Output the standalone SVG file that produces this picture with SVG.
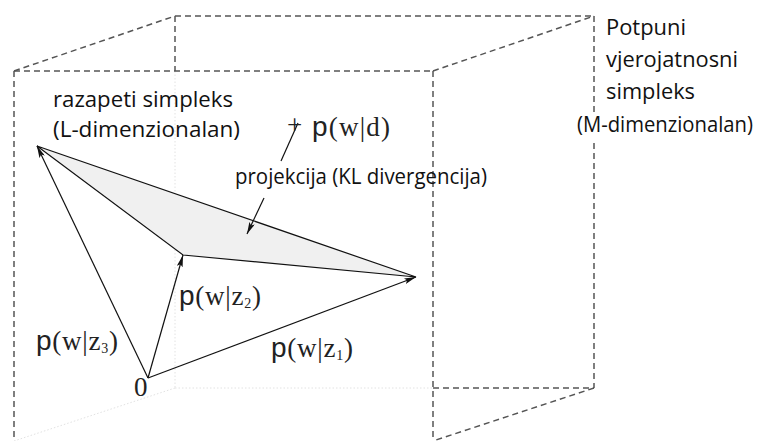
<svg xmlns="http://www.w3.org/2000/svg" width="758" height="441" viewBox="0 0 758 441">
<style>
.dash{fill:none;stroke:#555;stroke-width:1.5;stroke-dasharray:6 4}
.dot{fill:none;stroke:#e2e2e2;stroke-width:1;stroke-dasharray:1.5 2}
.edge{fill:none;stroke:#111;stroke-width:1.2}
.lbl{font-family:"Open Sans","Liberation Sans",sans-serif;font-size:21px;fill:#111}
.math{font-family:"Liberation Serif","DejaVu Serif",serif;font-size:27px;fill:#222}
.p{font-family:"Liberation Sans","DejaVu Sans",sans-serif;font-size:28px}
.sub{font-size:14px}
</style>
<defs>
<marker id="ah" viewBox="0 0 12 6" refX="12" refY="3" markerWidth="12" markerHeight="6" markerUnits="userSpaceOnUse" orient="auto">
<path d="M0,0 L12,3 L0,6 L2.5,3 Z" fill="#111"/>
</marker>
</defs>
<rect width="758" height="441" fill="#fff"/>
<g id="cube">
<line class="dot" x1="175" y1="71" x2="175" y2="388"/>
<line class="dot" x1="175" y1="388" x2="433" y2="388"/>
<line class="dot" x1="175" y1="388" x2="14" y2="441"/>
<line class="dash" x1="175" y1="16" x2="594" y2="16"/>
<line class="dash" x1="175" y1="16" x2="175" y2="71"/>
<line class="dash" x1="14" y1="71" x2="175" y2="16"/>
<line class="dash" x1="433" y1="71" x2="594" y2="16"/>
<line class="dash" x1="14" y1="71" x2="433" y2="71"/>
<line class="dash" x1="14" y1="71" x2="14" y2="441"/>
<line class="dash" x1="433" y1="71" x2="433" y2="441"/>
<line class="dash" x1="594" y1="16" x2="594" y2="112"/>
<line class="dash" x1="594" y1="143" x2="594" y2="388"/>
<line class="dash" x1="433" y1="388" x2="594" y2="388"/>
<line class="dash" x1="594" y1="388" x2="433" y2="441"/>
</g>
<g id="simplex">
<polygon points="37,146 183,255 416,277" fill="#f0f0f0" stroke="#111" stroke-width="1.2" stroke-linejoin="miter"/>
</g>
<g id="connectors">
<line class="edge" x1="298" y1="123" x2="281" y2="161"/>
<line class="edge" x1="264" y1="198" x2="247" y2="234" marker-end="url(#ah)"/>
<line class="edge" x1="148" y1="378" x2="37" y2="146" marker-end="url(#ah)"/>
<line class="edge" x1="148" y1="378" x2="183" y2="255" marker-end="url(#ah)"/>
<line class="edge" x1="148" y1="378" x2="416" y2="277" marker-end="url(#ah)"/>
</g>
<g id="labels">
<text class="lbl" x="53" y="107" textLength="180" lengthAdjust="spacingAndGlyphs">razapeti simpleks</text>
<text class="lbl" x="53" y="137" textLength="187" lengthAdjust="spacingAndGlyphs">(L-dimenzionalan)</text>
<text class="lbl" x="606" y="35" textLength="80" lengthAdjust="spacingAndGlyphs">Potpuni</text>
<text class="lbl" x="606" y="67" textLength="132" lengthAdjust="spacingAndGlyphs">vjerojatnosni</text>
<text class="lbl" x="606" y="99" textLength="89" lengthAdjust="spacingAndGlyphs">simpleks</text>
<text class="lbl" x="577" y="132" textLength="176" lengthAdjust="spacingAndGlyphs">(M-dimenzionalan)</text>
<text class="lbl" x="235" y="184" textLength="252" lengthAdjust="spacingAndGlyphs">projekcija (KL divergencija)</text>
<text class="math" x="287" y="134" font-size="29" fill="#444">+</text>
<text class="math" x="312" y="136" textLength="78" lengthAdjust="spacing"><tspan class="p">p</tspan>(w|d)</text>
<text class="math" x="179" y="305" textLength="82" lengthAdjust="spacing"><tspan class="p">p</tspan>(w|z<tspan class="sub" dy="3">2</tspan><tspan dy="-3">)</tspan></text>
<text class="math" x="36" y="350" textLength="82" lengthAdjust="spacing"><tspan class="p">p</tspan>(w|z<tspan class="sub" dy="3">3</tspan><tspan dy="-3">)</tspan></text>
<text class="math" x="271" y="357" textLength="82" lengthAdjust="spacing"><tspan class="p">p</tspan>(w|z<tspan class="sub" dy="3">1</tspan><tspan dy="-3">)</tspan></text>
<text class="math" x="134" y="396" font-size="19">0</text>
</g>
</svg>
